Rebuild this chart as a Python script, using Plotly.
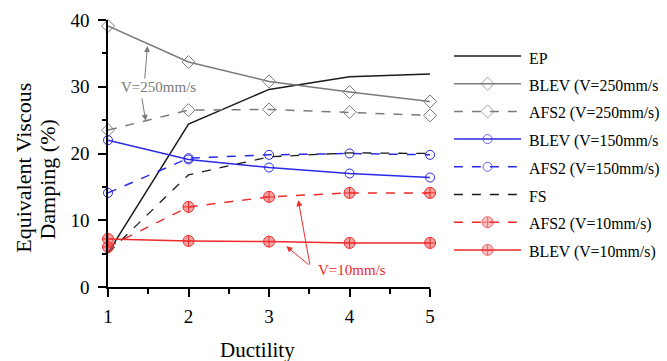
import plotly.graph_objects as go

ductility = [1, 2, 3, 4, 5]
ep = [5.1, 24.4, 29.6, 31.5, 31.9]
blev_250 = [39.1, 33.7, 30.8, 29.2, 27.8]
afs2_250 = [23.5, 26.5, 26.6, 26.2, 25.7]
blev_150 = [22.0, 19.1, 17.9, 17.0, 16.4]
afs2_150 = [14.1, 19.3, 19.8, 20.0, 19.8]
fs = [5.1, 16.8, 19.5, 20.1, 20.0]
afs2_10 = [6.0, 12.0, 13.5, 14.1, 14.1]
blev_10 = [7.2, 6.9, 6.8, 6.6, 6.6]

FONT = "'Times New Roman', 'Liberation Serif', serif"
GRAY = "#7a7a7a"
BLUE = "#2a2ae6"
RED = "#ee2a2a"
BLACK = "#1a1a1a"

# page body has an 8px margin; compensate so the plot lands where the reference has it
OFF = 8
L, T, B = 108 - OFF, 20 - OFF, 74
FIG_W, FIG_H = 667 - OFF, 361 - OFF
W_PLOT = FIG_W - L
H_PLOT = FIG_H - T - B
X0 = 108  # viewport x of plot left
Y0 = 287  # viewport y of plot bottom


def px_x(px):
    return (px - X0) / W_PLOT


def px_y(py):
    return (Y0 - py) / H_PLOT


series = [
    ("EP", ep, dict(color=BLACK, width=1.5, dash="solid"), None),
    ("BLEV (V=250mm/s)", blev_250, dict(color=GRAY, width=1.5, dash="solid"),
     dict(symbol="diamond-open", size=10, color=GRAY)),
    ("AFS2 (V=250mm/s)", afs2_250, dict(color=GRAY, width=1.5, dash="dash"),
     dict(symbol="diamond-open", size=10, color=GRAY)),
    ("BLEV (V=150mm/s)", blev_150, dict(color=BLUE, width=1.5, dash="solid"),
     dict(symbol="circle-open", size=9, color=BLUE)),
    ("AFS2 (V=150mm/s)", afs2_150, dict(color=BLUE, width=1.5, dash="dash"),
     dict(symbol="circle-open", size=9, color=BLUE)),
    ("FS", fs, dict(color=BLACK, width=1.3, dash="dash"), None),
    ("AFS2 (V=10mm/s)", afs2_10, dict(color=RED, width=1.5, dash="dash"),
     dict(symbol="circle-cross", size=11, color="rgba(240,90,90,0.55)",
          line=dict(color=RED, width=1))),
    ("BLEV (V=10mm/s)", blev_10, dict(color=RED, width=1.5, dash="solid"),
     dict(symbol="circle-cross", size=11, color="rgba(240,90,90,0.55)",
          line=dict(color=RED, width=1))),
]

fig = go.Figure()
for name, vals, line, marker in series:
    fig.add_trace(go.Scatter(
        x=ductility, y=vals, name=name, showlegend=False,
        mode="lines+markers" if marker else "lines",
        line=line, marker=marker, cliponaxis=False,
    ))

# manual legend (helper axes in legend region)
row_px = [56, 83.7, 111.4, 139.1, 166.8, 194.5, 222.2, 249.9]
for (name, vals, line, marker), py in zip(series, row_px):
    m = None
    if marker:
        m = dict(marker)
        m["size"] = [0, marker["size"], 0]
    fig.add_trace(go.Scatter(
        x=[0, 0.5, 1], y=[py, py, py], xaxis="x2", yaxis="y2",
        mode="lines+markers" if marker else "lines",
        line=line, marker=m, showlegend=False, hoverinfo="skip", cliponaxis=False,
    ))
    fig.add_annotation(
        x=px_x(531), y=py + 2, xref="paper", yref="y2",
        text=name, showarrow=False, xanchor="left", yanchor="middle",
        font=dict(family=FONT, size=15.8, color="black"),
    )

fig.add_annotation(
    x=px_x(570), y=18, xref="paper", yref="y2",
    text="<u>LEGEND</u>", showarrow=False, xanchor="center", yanchor="middle",
    font=dict(family=FONT, size=20, color="black"),
)

# in-plot annotations
arrow_common = dict(xref="x", yref="y", axref="x", ayref="y", showarrow=True,
                    arrowhead=2, arrowsize=1.2, arrowwidth=1, text="")
fig.add_annotation(x=1.49, y=36.1, ax=1.455, ay=31.0, arrowcolor=GRAY, **arrow_common)
fig.add_annotation(x=1.468, y=24.9, ax=1.418, ay=28.5, arrowcolor=GRAY, **arrow_common)
fig.add_annotation(x=1.63, y=30.0, text="V=250mm/s", showarrow=False,
                   font=dict(family=FONT, size=15, color=GRAY))
fig.add_annotation(x=0.865, y=17.8, text="V=150mm/s", showarrow=False, xanchor="left",
                   font=dict(family=FONT, size=15, color=BLUE))
fig.add_annotation(x=3.363, y=13.0, ax=3.51, ay=3.15, arrowcolor=RED, **arrow_common)
fig.add_annotation(x=3.215, y=6.1, ax=3.51, ay=3.15, arrowcolor=RED, **arrow_common)
fig.add_annotation(x=4.03, y=2.6, text="V=10mm/s", showarrow=False,
                   font=dict(family=FONT, size=15, color=RED))

# axis titles (two separate lines for tight line spacing)
fig.add_annotation(x=px_x(22), y=px_y(168), xref="paper", yref="paper",
                   text="Equivalent Viscous", textangle=-90, showarrow=False,
                   xanchor="center", yanchor="middle",
                   font=dict(family=FONT, size=22, color="black"))
fig.add_annotation(x=px_x(46), y=px_y(180), xref="paper", yref="paper",
                   text="Damping (%)", textangle=-90, showarrow=False,
                   xanchor="center", yanchor="middle",
                   font=dict(family=FONT, size=22, color="black"))
fig.add_annotation(x=px_x(259), y=px_y(350), xref="paper", yref="paper",
                   text="Ductility", showarrow=False, xanchor="center", yanchor="middle",
                   font=dict(family=FONT, size=21, color="black"))

fig.update_layout(
    width=FIG_W, height=FIG_H,
    margin=dict(l=L, r=0, t=T, b=B, pad=0),
    paper_bgcolor="white", plot_bgcolor="white",
    font=dict(family=FONT, color="black"),
    showlegend=False,
    xaxis=dict(domain=[0, 325 / W_PLOT], range=[1, 5], tickvals=[1, 2, 3, 4, 5],
               showgrid=False, zeroline=False, showline=True, linecolor="black", linewidth=1.5,
               ticks="outside", ticklen=8, tickwidth=1.5, tickcolor="black",
               ticklabelstandoff=3,
               minor=dict(tickvals=[1.5, 2.5, 3.5, 4.5], ticklen=5, tickwidth=1.5,
                          tickcolor="black", ticks="outside"),
               tickfont=dict(family=FONT, size=19, color="black")),
    yaxis=dict(range=[0, 40], tickvals=[0, 10, 20, 30, 40],
               showgrid=False, zeroline=False, showline=True, linecolor="black", linewidth=1.5,
               ticks="outside", ticklen=8, tickwidth=1.5, tickcolor="black",
               ticklabelstandoff=5,
               minor=dict(tickvals=[5, 15, 25, 35], ticklen=4, tickwidth=1.5,
                          tickcolor="black", ticks="outside"),
               tickfont=dict(family=FONT, size=19, color="black")),
    xaxis2=dict(domain=[px_x(457), px_x(525)], range=[0, 1],
                visible=False, anchor="y2"),
    yaxis2=dict(domain=[0, 1], range=[Y0, Y0 - H_PLOT], visible=False, anchor="x2"),
)

fig.write_html("out.html")
